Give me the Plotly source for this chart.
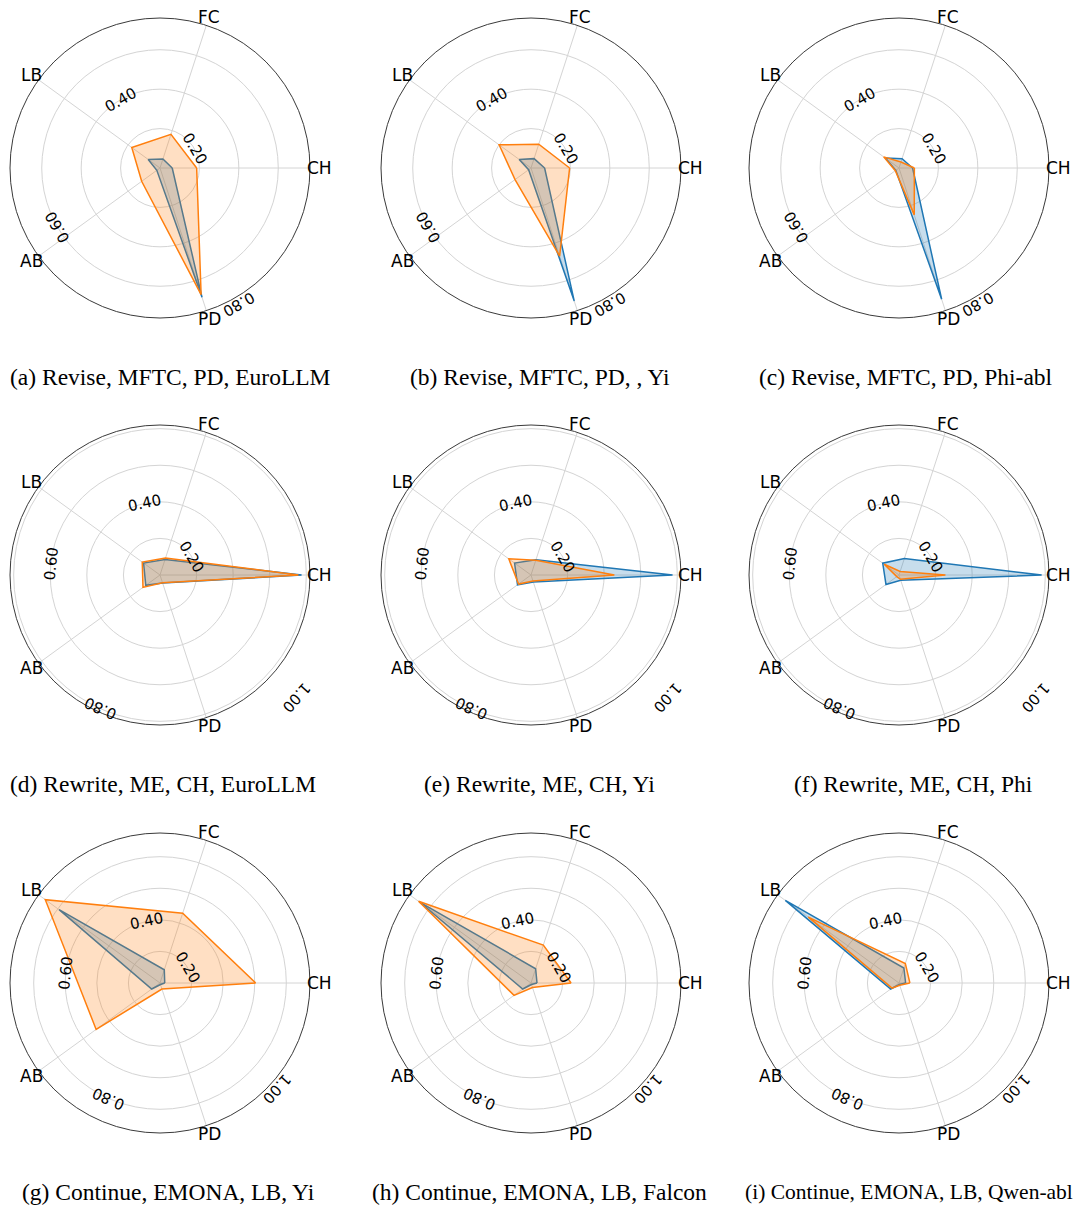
import math
import plotly.graph_objects as go

# ---------------- data ----------------
categories = ["CH", "FC", "LB", "AB", "PD"]
theta_deg = [0, 72, 144, 216, 288]

captions = [
    "(a) Revise, MFTC, PD, EuroLLM",
    "(b) Revise, MFTC, PD, , Yi",
    "(c) Revise, MFTC, PD, Phi-abl",
    "(d) Rewrite, ME, CH, EuroLLM",
    "(e) Rewrite, ME, CH, Yi",
    "(f) Rewrite, ME, CH, Phi",
    "(g) Continue, EMONA, LB, Yi",
    "(h) Continue, EMONA, LB, Falcon",
    "(i) Continue, EMONA, LB, Qwen-abl",
]

# values per category (CH, FC, LB, AB, PD)
series1_a = [0.062, 0.048, 0.074, 0.020, 0.690]
series2_a = [0.186, 0.180, 0.177, 0.115, 0.675]
series1_b = [0.069, 0.050, 0.074, 0.015, 0.710]
series2_b = [0.196, 0.127, 0.200, 0.100, 0.470]
series1_c = [0.069, 0.050, 0.086, 0.020, 0.700]
series2_c = [0.078, 0.032, 0.096, 0.023, 0.250]
series1_d = [0.774, 0.089, 0.111, 0.096, 0.046]
series2_d = [0.757, 0.097, 0.120, 0.115, 0.045]
series1_e = [0.774, 0.087, 0.111, 0.091, 0.040]
series2_e = [0.456, 0.085, 0.150, 0.084, 0.035]
series1_f = [0.780, 0.095, 0.110, 0.088, 0.030]
series2_f = [0.254, 0.020, 0.100, 0.015, 0.025]
series1_g = [0.030, 0.088, 0.790, 0.065, 0.010]
series2_g = [0.606, 0.465, 0.898, 0.500, 0.040]
series1_h = [0.038, 0.095, 0.875, 0.065, 0.010]
series2_h = [0.254, 0.252, 0.880, 0.133, 0.030]
series1_i = [0.042, 0.100, 0.890, 0.065, 0.010]
series2_i = [0.069, 0.130, 0.710, 0.055, 0.015]

series1 = [series1_a, series1_b, series1_c, series1_d, series1_e,
           series1_f, series1_g, series1_h, series1_i]
series2 = [series2_a, series2_b, series2_c, series2_d, series2_e,
           series2_f, series2_g, series2_h, series2_i]

row_rmax = [0.761, 0.82, 0.95]
row_rticks = [[0.2, 0.4, 0.6, 0.8], [0.2, 0.4, 0.6, 0.8, 1.0], [0.2, 0.4, 0.6, 0.8, 1.0]]

# ---------------- layout geometry ----------------
W, H = 1075, 1209
col_cx = [160, 531, 899]
row_cy = [168, 575, 983]
R = 150
caption_y = [377, 784, 1192]
caption_left = [[8, 408, 757], [8, 422, 792], [20, 370, None]]

BLUE = "#1f77b4"
ORANGE = "#ff7f0e"
GRID = "#d4d4d4"

fig = go.Figure()
annotations = []
layout_polars = {}


def paper(px, py):
    return px / W, 1 - py / H


for idx in range(9):
    row, col = divmod(idx, 3)
    name = "polar" if idx == 0 else f"polar{idx + 1}"
    cx, cy = col_cx[col], row_cy[row]
    rmax = row_rmax[row]

    for vals, color, fillc in [
        (series1[idx], BLUE, "rgba(31,119,180,0.25)"),
        (series2[idx], ORANGE, "rgba(255,127,14,0.25)"),
    ]:
        fig.add_trace(go.Scatterpolar(
            r=vals + [vals[0]],
            theta=theta_deg + [theta_deg[0]],
            mode="lines",
            fill="toself",
            fillcolor=fillc,
            line=dict(color=color, width=1.5),
            subplot=name,
            showlegend=False,
            hoverinfo="skip",
        ))

    layout_polars[name] = dict(
        domain=dict(x=[(cx - R) / W, (cx + R) / W],
                    y=[1 - (cy + R) / H, 1 - (cy - R) / H]),
        bgcolor="white",
        radialaxis=dict(range=[0, rmax], tickmode="array", tickvals=row_rticks[row],
                        showticklabels=False, ticks="", showline=False,
                        gridcolor=GRID, gridwidth=0.8),
        angularaxis=dict(tickmode="array", tickvals=theta_deg, ticktext=categories,
                         showticklabels=False,
                         rotation=0, direction="counterclockwise",
                         showline=True, linecolor="#3a3a3a", linewidth=1,
                         gridcolor=GRID, gridwidth=0.8, ticks=""),
    )

    # category labels, centred just outside the rim (matplotlib style)
    for lab, ang in zip(categories, theta_deg):
        px = cx + (R + 9) * math.cos(math.radians(ang))
        py = cy - (R + 9) * math.sin(math.radians(ang))
        x, y = paper(px, py)
        annotations.append(dict(
            x=x, y=y, xref="paper", yref="paper", text=lab, showarrow=False,
            xanchor="center", yanchor="middle",
            font=dict(family="DejaVu Sans", size=17, color="black"),
        ))

    # rotated radial tick labels placed along a spiral
    ticks = row_rticks[row]
    n = len(ticks)
    k = R / rmax
    for i, v in enumerate(ticks):
        ang = 30 + i * 360.0 / n
        px = cx + v * k * math.cos(math.radians(ang))
        py = cy - v * k * math.sin(math.radians(ang))
        ta = 90 - ang
        while ta > 180:
            ta -= 360
        while ta <= -180:
            ta += 360
        x, y = paper(px, py)
        annotations.append(dict(
            x=x, y=y, xref="paper", yref="paper",
            text=f"{v:.2f}", showarrow=False, textangle=ta,
            xanchor="center", yanchor="middle",
            font=dict(family="DejaVu Sans", size=15, color="black"),
        ))

    left = caption_left[row][col]
    if left is None:
        cap = dict(x=1.0, xanchor="right")
        size = 21.5
    else:
        cap = dict(x=left / W, xanchor="left")
        size = 23.5
    annotations.append(dict(
        y=1 - caption_y[row] / H, xref="paper", yref="paper",
        text=captions[idx], showarrow=False, yanchor="middle",
        font=dict(family="Liberation Serif", size=size, color="black"),
        **cap,
    ))

fig.update_layout(
    width=W, height=H,
    margin=dict(l=0, r=0, t=0, b=0),
    paper_bgcolor="white",
    plot_bgcolor="white",
    annotations=annotations,
    **layout_polars,
)

fig.write_html("out.html")
